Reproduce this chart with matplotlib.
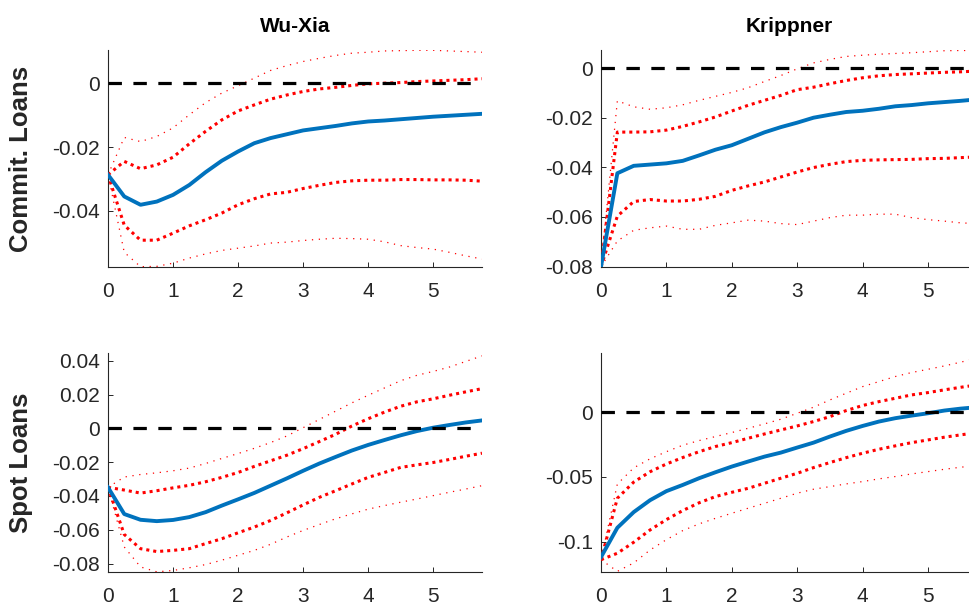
import numpy as np
import matplotlib
matplotlib.use('Agg')
import matplotlib.pyplot as plt

# -------------------- data --------------------
HORIZON = np.arange(0, 6, 0.25)   # years, quarterly steps 0 .. 5.75

ROW_LABELS = ['Commit. Loans', 'Spot Loans']
COL_TITLES = ['Wu-Xia', 'Krippner']

# Wu-Xia, commitment loans
wx_c_mid = [-0.0287, -0.0355, -0.0381, -0.0371, -0.0350, -0.0319, -0.0279, -0.0243, -0.0214, -0.0188, -0.0172, -0.0160,
            -0.0148, -0.0141, -0.0134, -0.0126, -0.0120, -0.0117, -0.0113, -0.0109, -0.0105, -0.0102, -0.0099, -0.0096]
wx_c_hi68 = [-0.0287, -0.0245, -0.0268, -0.0256, -0.0232, -0.0190, -0.0151, -0.0115, -0.0087, -0.0068, -0.0050, -0.0037,
             -0.0026, -0.0018, -0.0013, -0.0007, -0.0002, 0.0000, 0.0002, 0.0005, 0.0007, 0.0009, 0.0011, 0.0014]
wx_c_lo68 = [-0.0287, -0.0445, -0.0492, -0.0492, -0.0470, -0.0447, -0.0428, -0.0407, -0.0381, -0.0362, -0.0347, -0.0342,
             -0.0330, -0.0320, -0.0311, -0.0306, -0.0304, -0.0304, -0.0302, -0.0302, -0.0303, -0.0303, -0.0304, -0.0307]
wx_c_hi90 = [-0.0287, -0.0170, -0.0183, -0.0167, -0.0140, -0.0099, -0.0061, -0.0031, -0.0008, 0.0016, 0.0040, 0.0055,
             0.0068, 0.0078, 0.0087, 0.0094, 0.0097, 0.0101, 0.0102, 0.0103, 0.0103, 0.0101, 0.0099, 0.0097]
wx_c_lo90 = [-0.0287, -0.0530, -0.0575, -0.0574, -0.0564, -0.0548, -0.0535, -0.0524, -0.0517, -0.0510, -0.0501, -0.0498,
             -0.0493, -0.0489, -0.0486, -0.0487, -0.0489, -0.0497, -0.0509, -0.0515, -0.0520, -0.0530, -0.0541, -0.0551]

# Krippner, commitment loans
kr_c_mid = [-0.0801, -0.0424, -0.0394, -0.0389, -0.0384, -0.0374, -0.0352, -0.0329, -0.0311, -0.0285, -0.0259, -0.0238,
            -0.0220, -0.0200, -0.0188, -0.0177, -0.0172, -0.0164, -0.0154, -0.0149, -0.0142, -0.0137, -0.0132, -0.0126]
kr_c_hi68 = [-0.0801, -0.0258, -0.0258, -0.0257, -0.0250, -0.0235, -0.0217, -0.0197, -0.0173, -0.0150, -0.0130, -0.0110,
             -0.0087, -0.0077, -0.0063, -0.0050, -0.0039, -0.0031, -0.0026, -0.0023, -0.0020, -0.0017, -0.0015, -0.0012]
kr_c_lo68 = [-0.0801, -0.0597, -0.0538, -0.0530, -0.0536, -0.0536, -0.0529, -0.0517, -0.0493, -0.0475, -0.0459, -0.0439,
             -0.0419, -0.0401, -0.0388, -0.0377, -0.0372, -0.0370, -0.0369, -0.0368, -0.0365, -0.0364, -0.0361, -0.0358]
kr_c_hi90 = [-0.0801, -0.0132, -0.0156, -0.0166, -0.0160, -0.0148, -0.0130, -0.0114, -0.0098, -0.0079, -0.0054, -0.0030,
             -0.0003, 0.0021, 0.0035, 0.0047, 0.0052, 0.0056, 0.0059, 0.0062, 0.0066, 0.0070, 0.0071, 0.0071]
kr_c_lo90 = [-0.0801, -0.0697, -0.0654, -0.0644, -0.0637, -0.0650, -0.0650, -0.0634, -0.0624, -0.0613, -0.0617, -0.0627,
             -0.0631, -0.0617, -0.0603, -0.0593, -0.0593, -0.0589, -0.0589, -0.0603, -0.0611, -0.0617, -0.0624, -0.0627]

# Wu-Xia, spot loans
wx_s_mid = [-0.0349, -0.0507, -0.0541, -0.0549, -0.0542, -0.0525, -0.0496, -0.0457, -0.0420, -0.0382, -0.0339, -0.0296,
            -0.0251, -0.0208, -0.0169, -0.0131, -0.0098, -0.0069, -0.0041, -0.0016, 0.0004, 0.0020, 0.0035, 0.0047]
wx_s_hi68 = [-0.0349, -0.0365, -0.0383, -0.0369, -0.0352, -0.0337, -0.0316, -0.0290, -0.0261, -0.0225, -0.0192, -0.0159,
             -0.0120, -0.0078, -0.0035, 0.0014, 0.0057, 0.0096, 0.0131, 0.0157, 0.0175, 0.0196, 0.0216, 0.0235]
wx_s_lo68 = [-0.0349, -0.0628, -0.0712, -0.0729, -0.0722, -0.0712, -0.0682, -0.0653, -0.0618, -0.0584, -0.0545, -0.0500,
             -0.0453, -0.0408, -0.0369, -0.0329, -0.0290, -0.0261, -0.0231, -0.0216, -0.0202, -0.0184, -0.0165, -0.0147]
wx_s_hi90 = [-0.0349, -0.0288, -0.0273, -0.0263, -0.0251, -0.0235, -0.0208, -0.0178, -0.0149, -0.0118, -0.0084, -0.0045,
             0.0004, 0.0053, 0.0102, 0.0151, 0.0196, 0.0239, 0.0282, 0.0314, 0.0337, 0.0363, 0.0396, 0.0429]
wx_s_lo90 = [-0.0349, -0.0702, -0.0820, -0.0849, -0.0841, -0.0825, -0.0806, -0.0780, -0.0751, -0.0722, -0.0686, -0.0643,
             -0.0604, -0.0569, -0.0535, -0.0506, -0.0478, -0.0457, -0.0437, -0.0418, -0.0398, -0.0378, -0.0359, -0.0339]

# Krippner, spot loans
kr_s_mid = [-0.1120, -0.0893, -0.0772, -0.0680, -0.0610, -0.0562, -0.0510, -0.0464, -0.0420, -0.0381, -0.0343, -0.0312,
            -0.0273, -0.0235, -0.0188, -0.0144, -0.0106, -0.0072, -0.0046, -0.0026, -0.0008, 0.0013, 0.0028, 0.0039]
kr_s_hi68 = [-0.1140, -0.0665, -0.0540, -0.0460, -0.0400, -0.0350, -0.0305, -0.0265, -0.0235, -0.0201, -0.0168, -0.0137,
             -0.0106, -0.0072, -0.0034, 0.0013, 0.0052, 0.0082, 0.0108, 0.0134, 0.0152, 0.0173, 0.0193, 0.0211]
kr_s_lo68 = [-0.1140, -0.1090, -0.1005, -0.0910, -0.0830, -0.0760, -0.0700, -0.0652, -0.0619, -0.0588, -0.0549, -0.0510,
             -0.0472, -0.0428, -0.0389, -0.0351, -0.0317, -0.0286, -0.0260, -0.0235, -0.0214, -0.0193, -0.0175, -0.0157]
kr_s_hi90 = [-0.1140, -0.0555, -0.0430, -0.0360, -0.0305, -0.0255, -0.0219, -0.0188, -0.0157, -0.0124, -0.0090, -0.0054,
             -0.0008, 0.0039, 0.0095, 0.0147, 0.0198, 0.0237, 0.0276, 0.0307, 0.0332, 0.0358, 0.0387, 0.0418]
kr_s_lo90 = [-0.1140, -0.1230, -0.1165, -0.1065, -0.0985, -0.0915, -0.0863, -0.0820, -0.0781, -0.0742, -0.0704, -0.0665,
             -0.0626, -0.0595, -0.0575, -0.0554, -0.0536, -0.0515, -0.0497, -0.0477, -0.0459, -0.0441, -0.0425, -0.0412]

# y ticks / labels per panel
wx_c_ticks, wx_c_ticklabels = [-0.04, -0.02, 0], ['-0.04', '-0.02', '0']
kr_c_ticks, kr_c_ticklabels = [-0.08, -0.06, -0.04, -0.02, 0], ['-0.08', '-0.06', '-0.04', '-0.02', '0']
wx_s_ticks, wx_s_ticklabels = [-0.08, -0.06, -0.04, -0.02, 0, 0.02, 0.04], ['-0.08', '-0.06', '-0.04', '-0.02', '0', '0.02', '0.04']
kr_s_ticks, kr_s_ticklabels = [-0.1, -0.05, 0], ['-0.1', '-0.05', '0']
X_TICKS = [0, 1, 2, 3, 4, 5]
# -----------------------------------------------------------------------

BLUE = '#0072BD'
RED = '#FF0000'
INK = '#262626'

plt.rcParams['font.family'] = ['Liberation Sans', 'DejaVu Sans']
plt.rcParams['axes.unicode_minus'] = False

fig = plt.figure(figsize=(9.7, 6.06), dpi=100)
W, H = 970.0, 606.0


def add_axes(left, top, right, bottom):
    # pixel box -> figure fraction
    return fig.add_axes([left / W, 1 - bottom / H, (right - left) / W, (bottom - top) / H])


panels = [
    (add_axes(108, 50, 482, 267), (wx_c_mid, wx_c_hi68, wx_c_lo68, wx_c_hi90, wx_c_lo90),
     (-0.0576, 0.0104), wx_c_ticks, wx_c_ticklabels),
    (add_axes(601, 50, 977, 267), (kr_c_mid, kr_c_hi68, kr_c_lo68, kr_c_hi90, kr_c_lo90),
     (-0.0802, 0.0073), kr_c_ticks, kr_c_ticklabels),
    (add_axes(108, 353, 482, 572), (wx_s_mid, wx_s_hi68, wx_s_lo68, wx_s_hi90, wx_s_lo90),
     (-0.0850, 0.0446), wx_s_ticks, wx_s_ticklabels),
    (add_axes(601, 353, 977, 572), (kr_s_mid, kr_s_hi68, kr_s_lo68, kr_s_hi90, kr_s_lo90),
     (-0.1235, 0.0458), kr_s_ticks, kr_s_ticklabels),
]

for i, (ax, (mid, hi68, lo68, hi90, lo90), ylim, yt, ytl) in enumerate(panels):
    for band in (hi90, lo90):
        ax.plot(HORIZON, band, color=RED, lw=0.9, linestyle=(0, (1, 4.5)), zorder=2)
    for band in (hi68, lo68):
        ax.plot(HORIZON, band, color=RED, lw=2.2, linestyle=(0, (1, 1.3)), zorder=3)
    ax.plot(HORIZON, mid, color=BLUE, lw=2.8, zorder=4)
    ax.axhline(0, color='black', lw=2.3, linestyle=(0, (4.2, 3.6)), zorder=5)

    ax.set_xlim(0, 5.75)
    ax.set_ylim(*ylim)
    ax.set_xticks(X_TICKS)
    ax.set_yticks(yt)
    ax.set_yticklabels(ytl)
    for s in ('top', 'right'):
        ax.spines[s].set_visible(False)
    for s in ('left', 'bottom'):
        ax.spines[s].set_color(INK)
        ax.spines[s].set_linewidth(0.8)
    ax.tick_params(direction='in', length=3.5, width=0.7, colors=INK, labelsize=15)
    ax.tick_params(axis='y', pad=6)
    ax.tick_params(axis='x', pad=11)

    if i < 2:
        ax.set_title(COL_TITLES[i], fontsize=15, fontweight='bold', pad=13)
    if i % 2 == 0:
        ax.set_ylabel(ROW_LABELS[i // 2], fontsize=18.5, fontweight='bold', color=INK)
        ax.yaxis.set_label_coords(-0.2, 0.5)

fig.savefig('out.png', dpi=100)
